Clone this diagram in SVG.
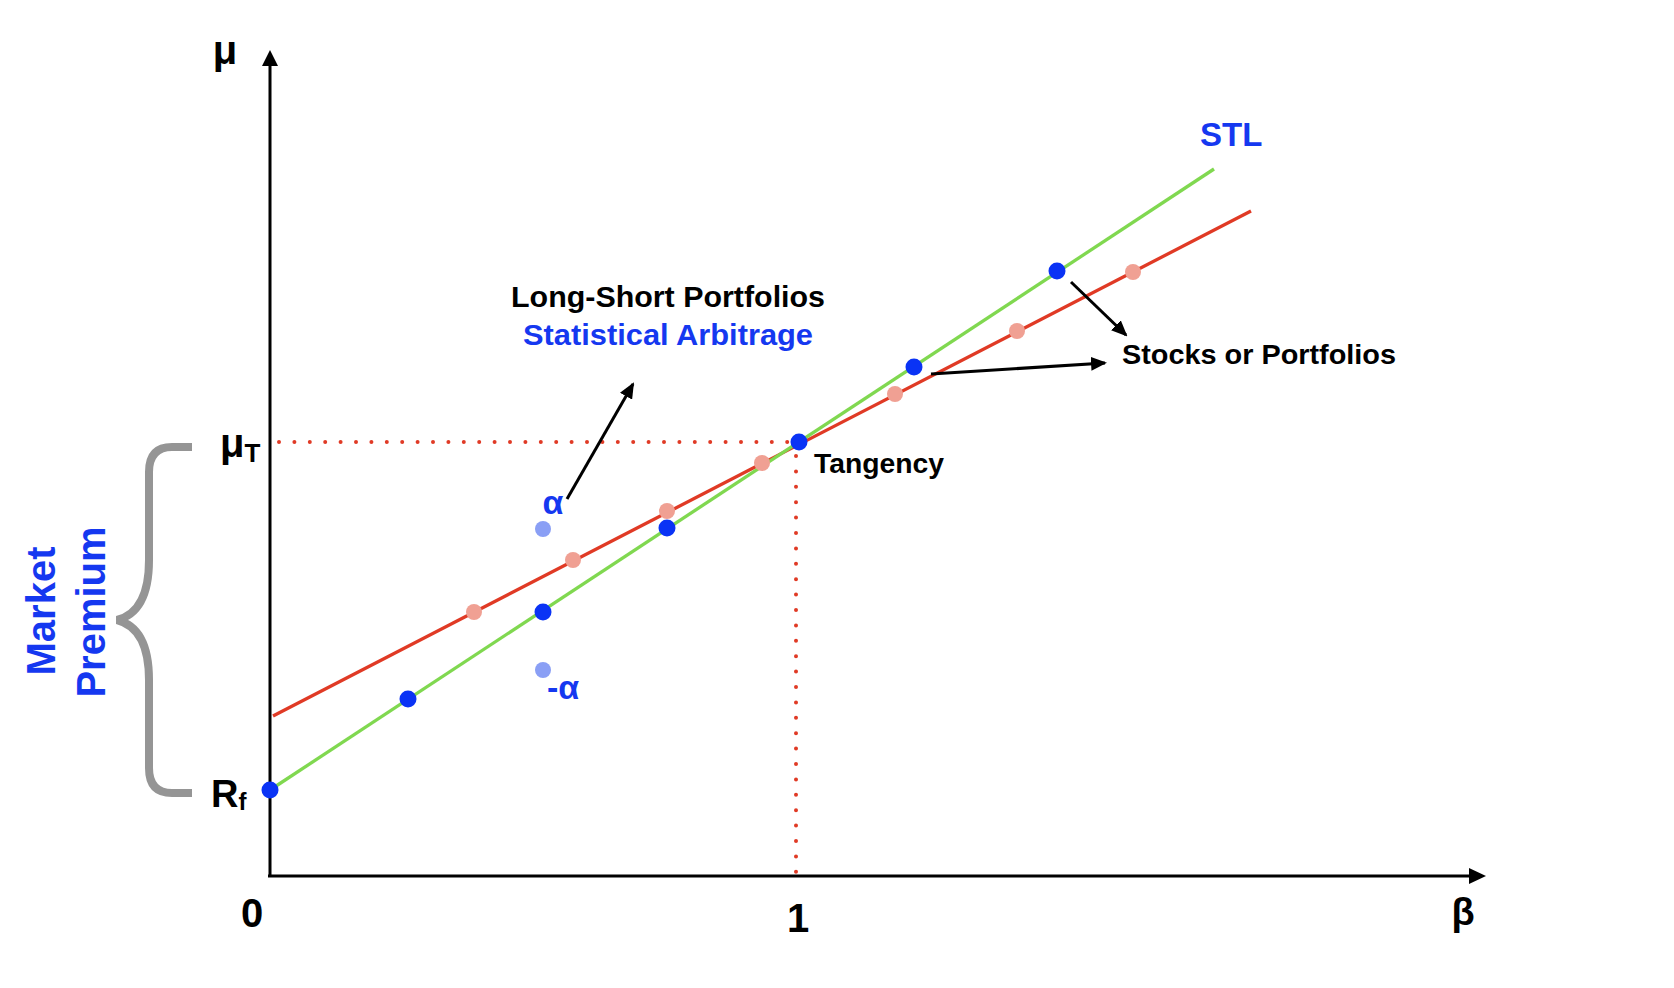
<svg xmlns="http://www.w3.org/2000/svg" width="1674" height="988" viewBox="0 0 1674 988">
<defs>
<style>
.t{font-family:"Liberation Sans",Arial,Helvetica,sans-serif;font-weight:bold;}
.blk{fill:#000;}
.blu{fill:#1538f0;}
.axis{stroke:#000;stroke-width:3;fill:none;}
.arr{stroke:#000;stroke-width:3;fill:none;marker-end:url(#ah);}
.dot{fill:#0a33f5;}
.pk{fill:#f0a093;}
.lb{fill:#8a9ff5;}
.dotted{stroke:#e03a25;stroke-width:4;stroke-linecap:round;stroke-dasharray:0 15.4;fill:none;}
</style>
<marker id="ah" markerWidth="16" markerHeight="14" refX="14" refY="7" orient="auto" markerUnits="userSpaceOnUse">
<path d="M0,0 L16,7 L0,14 Z" fill="#000"/>
</marker>
</defs>
<rect width="1674" height="988" fill="#fff"/>

<g id="axes">
<line class="axis" x1="270" y1="877" x2="270" y2="62"/>
<polygon points="270,50 262,66 278,66" fill="#000"/>
<line class="axis" x1="268" y1="876" x2="1472" y2="876"/>
<polygon points="1486,876 1469,868 1469,884" fill="#000"/>
</g>

<g id="guides">
<path class="dotted" d="M279,442 H796"/>
<path class="dotted" d="M796,456 V872"/>
</g>

<g id="lines">
<line x1="273" y1="716" x2="1251" y2="211" stroke="#e03a25" stroke-width="3.3"/>
<line x1="270" y1="790" x2="1214" y2="169" stroke="#80d850" stroke-width="3.3"/>
</g>

<g id="brace">
<path d="M192,447 H172 Q149,447 149,472 V560 Q149,612 117,620 Q149,628 149,680 V768 Q149,793 172,793 H192" fill="none" stroke="#959595" stroke-width="8"/>
</g>

<g id="pink-dots">
<circle class="pk" cx="474" cy="612" r="8"/>
<circle class="pk" cx="573" cy="560" r="8"/>
<circle class="pk" cx="667" cy="511" r="8"/>
<circle class="pk" cx="762" cy="463" r="8"/>
<circle class="pk" cx="895" cy="394" r="8"/>
<circle class="pk" cx="1017" cy="331" r="8"/>
<circle class="pk" cx="1133" cy="272" r="8"/>
</g>

<g id="alpha-dots">
<circle class="lb" cx="543" cy="529" r="8"/>
<circle class="lb" cx="543" cy="670" r="8"/>
</g>

<g id="blue-dots">
<circle class="dot" cx="270" cy="790" r="8.5"/>
<circle class="dot" cx="408" cy="699" r="8.5"/>
<circle class="dot" cx="543" cy="612" r="8.5"/>
<circle class="dot" cx="667" cy="528" r="8.5"/>
<circle class="dot" cx="799" cy="442" r="8.5"/>
<circle class="dot" cx="914" cy="367" r="8.5"/>
<circle class="dot" cx="1057" cy="271" r="8.5"/>
</g>

<g id="connectors">
<line class="arr" x1="567" y1="499" x2="633" y2="384"/>
<line class="arr" x1="1071" y1="282" x2="1126" y2="335"/>
<line class="arr" x1="931" y1="374" x2="1105" y2="363"/>
</g>

<g id="axis-labels">
<text class="t blk" x="225" y="64" font-size="40" text-anchor="middle">μ</text>
<text class="t blk" x="220" y="457" font-size="40">μ<tspan font-size="26" y="462">T</tspan></text>
<text class="t blk" x="211" y="807" font-size="38">R<tspan font-size="24" y="810">f</tspan></text>
<text class="t blk" x="252" y="927" font-size="40" text-anchor="middle">0</text>
<text class="t blk" x="798" y="932" font-size="40" text-anchor="middle">1</text>
<text class="t blk" x="1463" y="925" font-size="38" text-anchor="middle">β</text>
</g>

<g id="market-premium">
<text class="t blu" transform="translate(55,611) rotate(-90)" font-size="40" text-anchor="middle">Market</text>
<text class="t blu" transform="translate(105,612) rotate(-90)" font-size="40" text-anchor="middle">Premium</text>
</g>

<g id="annotations">
<text class="t blk" x="511" y="307" font-size="29" textLength="314" lengthAdjust="spacingAndGlyphs">Long-Short Portfolios</text>
<text class="t blu" x="523" y="345" font-size="29" textLength="290" lengthAdjust="spacingAndGlyphs">Statistical Arbitrage</text>
<text class="t blk" x="814" y="473" font-size="27" textLength="130" lengthAdjust="spacingAndGlyphs">Tangency</text>
<text class="t blk" x="1122" y="364" font-size="28" textLength="274" lengthAdjust="spacingAndGlyphs">Stocks or Portfolios</text>
<text class="t blu" x="1200" y="146" font-size="33">STL</text>
<text class="t blu" x="553" y="514" font-size="34" text-anchor="middle">α</text>
<text class="t blu" x="563" y="699" font-size="34" text-anchor="middle">-α</text>
</g>
</svg>
